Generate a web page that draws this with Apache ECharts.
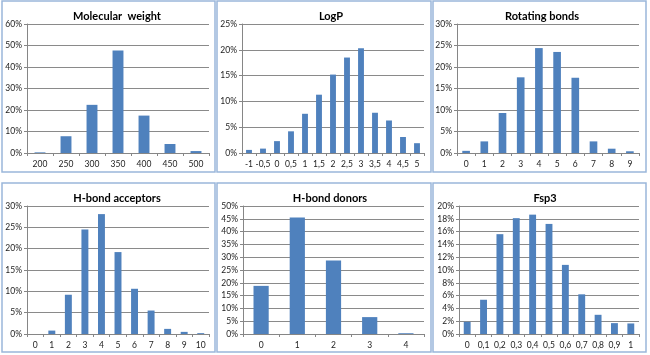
<!DOCTYPE html>
<html>
<head>
<meta charset="utf-8">
<script src="https://cdn.jsdelivr.net/npm/echarts@6/dist/echarts.min.js"></script>
<style>
html,body{margin:0;padding:0;background:#fff;}
#c{width:650px;height:355px;}
</style>
</head>
<body>
<div id="c"></div>
<script>
// ---- Data ----
const titles = ["Molecular  weight", "LogP", "Rotating bonds", "H-bond acceptors", "H-bond donors", "Fsp3"];

const mwCats = ["200", "250", "300", "350", "400", "450", "500"];
const mwVals = [0.3, 7.8, 22.4, 47.7, 17.4, 4.2, 0.9];

const logpCats = ["-1", "-0,5", "0", "0,5", "1", "1,5", "2", "2,5", "3", "3,5", "4", "4,5", "5"];
const logpVals = [0.6, 0.85, 2.3, 4.2, 7.6, 11.3, 15.2, 18.5, 20.3, 7.8, 6.3, 3.1, 1.9];

const rotCats = ["0", "1", "2", "3", "4", "5", "6", "7", "8", "9"];
const rotVals = [0.5, 2.7, 9.3, 17.6, 24.4, 23.5, 17.5, 2.7, 1.0, 0.4];

const accCats = ["0", "1", "2", "3", "4", "5", "6", "7", "8", "9", "10"];
const accVals = [0, 0.8, 9.2, 24.5, 28.1, 19.2, 10.6, 5.5, 1.2, 0.5, 0.2];

const donCats = ["0", "1", "2", "3", "4"];
const donVals = [18.8, 45.5, 28.7, 6.6, 0.3];

const fspCats = ["0", "0,1", "0,2", "0,3", "0,4", "0,5", "0,6", "0,7", "0,8", "0,9", "1"];
const fspVals = [1.9, 5.35, 15.6, 18.1, 18.65, 17.2, 10.8, 6.2, 3.0, 1.7, 1.65];

const yMax = [60, 25, 30, 30, 50, 20];
const yStep = [10, 5, 5, 5, 5, 2];

// ---- Layout ----
const cats = [mwCats, logpCats, rotCats, accCats, donCats, fspCats];
const vals = [mwVals, logpVals, rotVals, accVals, donVals, fspVals];
const grids = [
  {left: 27, top: 24, width: 182, height: 129},
  {left: 242, top: 24, width: 182, height: 129},
  {left: 457, top: 24, width: 182, height: 129},
  {left: 27, top: 206, width: 182, height: 128},
  {left: 243, top: 206, width: 181, height: 128},
  {left: 459, top: 206, width: 180, height: 128}
];
const titlePos = [[112, 6], [326, 6], [537, 6], [112, 188], [325, 188], [540, 188]];
const panels = [[2, 1, 213, 171], [217, 1, 214, 171], [433, 1, 213, 171],
                [2, 183, 213, 169], [217, 183, 214, 169], [433, 183, 213, 169]];

const FONT = 'Lato, "Liberation Sans", sans-serif';
const chart = echarts.init(document.getElementById('c'), null, {renderer: 'canvas'});

const option = {
  backgroundColor: '#fff',
  animation: false,
  title: titles.map((t, i) => ({
    text: t, left: titlePos[i][0], top: titlePos[i][1], textAlign: 'center',
    textStyle: {fontFamily: FONT, fontSize: 11, fontWeight: 'bold', color: '#000'}
  })),
  graphic: panels.map(p => ({
    type: 'rect', z: 100, silent: true,
    shape: {x: p[0], y: p[1], width: p[2], height: p[3]},
    style: {fill: 'none', stroke: '#9ab6da', lineWidth: 1.5}
  })),
  grid: grids.map(g => Object.assign({containLabel: false}, g)),
  xAxis: cats.map((c, i) => ({
    type: 'category', gridIndex: i, data: c,
    axisLine: {lineStyle: {color: '#868686', width: 1}},
    axisTick: {show: true, length: 3, lineStyle: {color: '#868686'}},
    axisLabel: {fontFamily: FONT, fontSize: 8.5, color: '#222', margin: 7, interval: 0}
  })),
  yAxis: yMax.map((m, i) => ({
    type: 'value', gridIndex: i, min: 0, max: m, interval: yStep[i],
    axisLine: {show: true, lineStyle: {color: '#868686', width: 1}},
    axisTick: {show: true, length: 3, lineStyle: {color: '#868686'}},
    splitLine: {lineStyle: {color: '#8a8a8a', width: 1}},
    axisLabel: {fontFamily: FONT, fontSize: 8.5, color: '#222', margin: 5, formatter: '{value}%'}
  })),
  series: vals.map((v, i) => ({
    type: 'bar', xAxisIndex: i, yAxisIndex: i, data: v,
    barCategoryGap: '58%',
    itemStyle: {color: '#4f81bd', borderWidth: 0}
  }))
};
chart.setOption(option);
</script>
</body>
</html>
